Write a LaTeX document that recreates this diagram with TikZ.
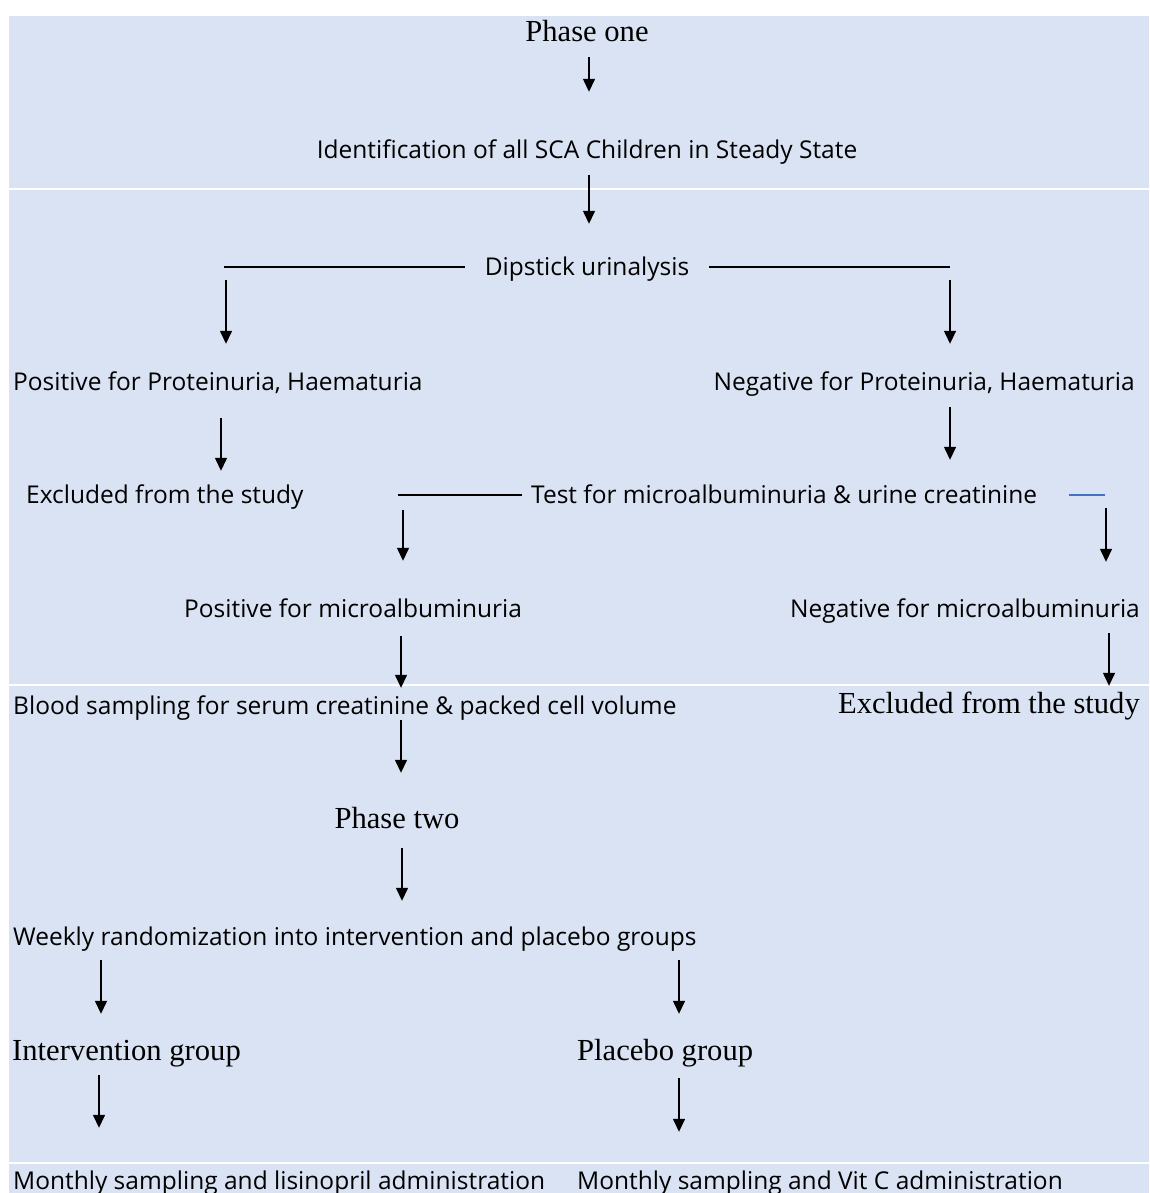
\documentclass[tikz,border=0pt]{standalone}
\usepackage{fontspec}
\setmainfont{Liberation Serif}
\newfontfamily\bodysans[Ligatures=NoCommon]{Open Sans}
\definecolor{panel}{HTML}{DAE3F3}
\definecolor{wordblue}{HTML}{4472C4}
\usetikzlibrary{arrows.meta,positioning,calc}
\tikzset{
  stage/.style={
    inner sep=0pt, font=\bodysans\fontsize{24.5}{28}\selectfont,
    text height=15pt, text depth=5pt
  },
  phase/.style={
    inner sep=0pt, font=\fontsize{30.6}{34}\selectfont,
    text height=15pt, text depth=5pt
  },
  arr/.style={-{Triangle[length=13pt,width=12pt]}, line width=1.4pt},
  link/.style={line width=1.2pt},
  divider/.style={white, line width=2pt},
}

\begin{document}
\begin{tikzpicture}[x=1pt, y=-1pt]

  \useasboundingbox (0,0) rectangle (1149,1193);
  \fill[panel] (9,16) rectangle (1149,1193);
  \draw[divider] (9,189) -- (1149,189);
  \draw[divider] (9,685) -- (1149,685);
  \draw[divider] (9,1163) -- (1149,1163);

  % Phase one
  \node[phase, anchor=base] (phaseone) at (587,42) {Phase one};
  \node[stage, anchor=base] (ident) at (587,159)
    {Identification of all SCA Children in Steady State};
  \node[stage, anchor=base] (dip) at (587,275) {Dipstick urinalysis};

  \node[stage, anchor=base west] (posprot) at (13,390)
    {Positive for Proteinuria, Haematuria};
  \node[stage, anchor=base east] (negprot) at (1135,390)
    {Negative for Proteinuria, Haematuria};

  \node[stage, anchor=base west] (exclA) at (26,503) {Excluded from the study};
  \node[stage, anchor=base west] (testmic) at (531,503)
    {Test for microalbuminuria \& urine creatinine};

  \node[stage, anchor=base west] (posmic) at (184,617)
    {Positive for microalbuminuria};
  \node[stage, anchor=base east] (negmic) at (1140,617)
    {Negative for microalbuminuria};

  \node[stage, anchor=base west] (blood) at (13,714)
    {Blood sampling for serum creatinine \& packed cell volume};
  \node[phase, anchor=base east] (exclB) at (1140,713) {Excluded from the study};

  % Phase two
  \node[phase, anchor=base] (phasetwo) at (397,828) {Phase two};
  \node[stage, anchor=base west] (weekly) at (13,945)
    {Weekly randomization into intervention and placebo groups};

  \node[phase, anchor=base west] (interv) at (12,1060) {Intervention group};
  \node[phase, anchor=base west] (placebo) at (577,1060) {Placebo group};

  \node[stage, anchor=base west] (monthA) at (13,1189)
    {Monthly sampling and lisinopril administration};
  \node[stage, anchor=base west] (monthB) at (577,1189)
    {Monthly sampling and Vit C administration};

  % Branch points
  \coordinate (dipL) at (226,267);
  \coordinate (dipR) at (950,267);
  \coordinate (testL) at (403,495);
  \coordinate (testR) at (1106,495);

  \draw[link] ([xshift=-20pt]dip.west |- dipL) -- (224,267 |- dipL);
  \draw[link] ([xshift=20pt]dip.east |- dipR) -- (dipR);
  \draw[link] ([xshift=-9pt]testmic.west |- testL) -- (398,495 |- testL);
  \draw[link, wordblue] ([xshift=32pt]testmic.east |- testR)
    -- ([xshift=68pt]testmic.east |- testR);

  % Arrows
  \draw[arr] ([yshift=-10pt]589,0 |- phaseone.south) -- ([yshift=52pt]589,0 |- ident.north);
  \draw[arr] ([yshift=-11pt]589,0 |- ident.south) -- ([yshift=36pt]589,0 |- dip.north);
  \draw[arr] ([yshift=-13pt]dipL) -- ([yshift=31pt]dipL |- posprot.north);
  \draw[arr] ([yshift=-13pt]dipR) -- ([yshift=31pt]dipR |- negprot.north);
  \draw[arr] ([yshift=-23pt]221,0 |- posprot.south) -- ([yshift=17pt]221,0 |- exclA.north);
  \draw[arr] ([yshift=-12pt]950,0 |- negprot.south) -- ([yshift=28pt]950,0 |- testmic.north);
  \draw[arr] ([yshift=-15pt]testL) -- ([yshift=41pt]testL |- posmic.north);
  \draw[arr] ([yshift=-13pt]testR) -- ([yshift=40pt]testR |- negmic.north);
  \draw[arr] ([yshift=-14pt]401,0 |- posmic.south) -- ([yshift=11pt]401,0 |- blood.north);
  \draw[arr] ([yshift=-11pt]1109,0 |- negmic.south) -- ([yshift=12pt]1109,0 |- exclB.north);
  \draw[arr] ([yshift=-1pt]401,0 |- blood.south) -- ([yshift=40pt]401,0 |- phasetwo.north);
  \draw[arr] ([yshift=-15pt]402,0 |- phasetwo.south) -- ([yshift=29pt]402,0 |- weekly.north);
  \draw[arr] ([yshift=-10pt]101,0 |- weekly.south) -- ([yshift=31pt]101,0 |- interv.north);
  \draw[arr] ([yshift=-10pt]679,0 |- weekly.south) -- ([yshift=31pt]679,0 |- placebo.north);
  \draw[arr] ([yshift=-10pt]99,0 |- interv.south) -- ([yshift=46pt]99,0 |- monthA.north);
  \draw[arr] ([yshift=-13pt]679,0 |- placebo.south) -- ([yshift=42pt]679,0 |- monthB.north);

\end{tikzpicture}
\end{document}
